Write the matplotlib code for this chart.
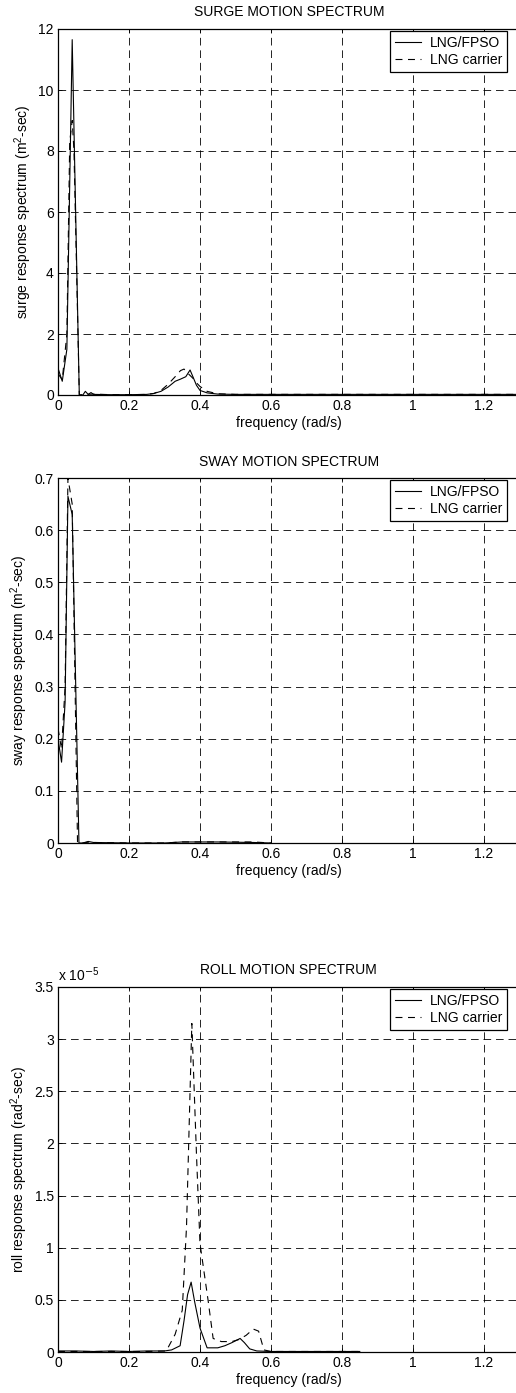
import matplotlib
matplotlib.use("Agg")
import matplotlib.pyplot as plt
from matplotlib.ticker import FormatStrFormatter, MultipleLocator, FixedLocator

plt.rcParams['font.family'] = ['Liberation Sans', 'DejaVu Sans']
plt.rcParams['font.size'] = 10
plt.rcParams['lines.scale_dashes'] = False
plt.rcParams['mathtext.default'] = 'regular'

# surge spectrum (m^2-sec)
surge_w_fpso = [0.0, 0.012, 0.025, 0.04, 0.06, 0.07, 0.077, 0.085, 0.093, 0.1, 0.15, 0.2, 0.25,
                0.27, 0.29, 0.31, 0.33, 0.345, 0.36, 0.372, 0.38, 0.39, 0.4, 0.42, 0.45, 0.5,
                0.6, 0.8, 1.0, 1.2, 1.3]
surge_s_fpso = [0.88, 0.45, 1.5, 11.65, 0.0, 0.0, 0.12, 0.02, 0.08, 0.02, 0.01, 0.01, 0.02,
                0.05, 0.12, 0.26, 0.45, 0.52, 0.6, 0.82, 0.6, 0.32, 0.15, 0.07, 0.03, 0.02,
                0.02, 0.02, 0.02, 0.02, 0.02]
surge_w_lng = [0.0, 0.012, 0.025, 0.033, 0.04, 0.045, 0.06, 0.08, 0.1, 0.15, 0.2, 0.25,
               0.27, 0.29, 0.31, 0.33, 0.345, 0.355, 0.365, 0.38, 0.39, 0.4, 0.42, 0.45, 0.5,
               0.6, 0.8, 1.0, 1.2, 1.3]
surge_s_lng = [0.7, 0.5, 2.0, 8.3, 9.0, 8.0, 0.0, 0.02, 0.03, 0.01, 0.01, 0.02,
               0.05, 0.15, 0.35, 0.6, 0.8, 0.85, 0.72, 0.55, 0.4, 0.28, 0.12, 0.04, 0.02,
               0.02, 0.02, 0.02, 0.02, 0.02]

# sway spectrum (m^2-sec)
sway_w_fpso = [0.0, 0.01, 0.02, 0.028, 0.04, 0.059, 0.07, 0.085, 0.1, 0.2, 0.3, 0.35, 0.45, 0.55, 0.6]
sway_s_fpso = [0.2, 0.155, 0.27, 0.665, 0.63, 0.0, 0.0, 0.003, 0.001, 0.0, 0.0, 0.002, 0.002, 0.001, 0.0]
sway_w_lng = [0.0, 0.01, 0.02, 0.028, 0.04, 0.055, 0.07, 0.09, 0.1, 0.2, 0.3, 0.35, 0.45, 0.55, 0.6]
sway_s_lng = [0.22, 0.18, 0.3, 0.7, 0.65, 0.0, 0.0, 0.002, 0.001, 0.0, 0.0, 0.002, 0.002, 0.002, 0.0]

# roll spectrum (x 1e-5 rad^2-sec)
roll_w_fpso = [0.0, 0.05, 0.1, 0.15, 0.2, 0.25, 0.3, 0.32, 0.344, 0.355, 0.365, 0.375, 0.385,
               0.4, 0.42, 0.45, 0.47, 0.49, 0.513, 0.525, 0.54, 0.56, 0.6, 0.7, 0.85]
roll_s_fpso = [0.01, 0.01, 0.005, 0.01, 0.005, 0.01, 0.01, 0.02, 0.06, 0.3, 0.55, 0.67, 0.48,
               0.23, 0.04, 0.04, 0.06, 0.09, 0.13, 0.09, 0.03, 0.01, 0.005, 0.005, 0.005]
roll_w_lng = [0.0, 0.05, 0.1, 0.15, 0.2, 0.25, 0.305, 0.33, 0.35, 0.362, 0.377, 0.39, 0.4,
              0.423, 0.437, 0.46, 0.49, 0.51, 0.53, 0.55, 0.565, 0.58, 0.6, 0.7, 0.85]
roll_s_lng = [0.005, 0.005, 0.005, 0.005, 0.005, 0.005, 0.01, 0.17, 0.4, 1.2, 3.15, 1.9, 1.04,
              0.49, 0.13, 0.1, 0.1, 0.12, 0.16, 0.22, 0.2, 0.02, 0.005, 0.005, 0.005]

freq_ticks = [0, 0.2, 0.4, 0.6, 0.8, 1.0, 1.2]

W, H = 516, 1393
fig = plt.figure(figsize=(W / 100, H / 100), dpi=100)

# axes boxes in pixels: top, bottom; x runs 0..1.3, right spine sits just past the edge
px_per_unit = 355
left = 58
xmax = 1.3
boxes = [(29, 395), (478, 843), (987, 1352)]


def make_axes(top, bottom):
    width = xmax * px_per_unit
    return fig.add_axes([left / W, 1 - bottom / H, width / W, (bottom - top) / H])


def style(ax, ymax, ystep, title, ylabel, top_px):
    ax.set_xlim(0, xmax)
    ax.set_ylim(0, ymax)
    ax.xaxis.set_major_locator(FixedLocator(freq_ticks))
    ax.yaxis.set_major_locator(MultipleLocator(ystep))
    ax.xaxis.set_major_formatter(FormatStrFormatter('%g'))
    ax.yaxis.set_major_formatter(FormatStrFormatter('%g'))
    ax.tick_params(direction='in', length=3, width=0.6, top=True, right=True, labelsize=10, pad=3)
    ax.grid(True, color='k', linewidth=0.6, dashes=(5.5, 3.5))
    for s in ax.spines.values():
        s.set_linewidth(0.9)
    ax.set_title(title, fontsize=10, pad=9)
    ax.set_xlabel('frequency (rad/s)', fontsize=10, labelpad=2)
    ax.set_ylabel(ylabel, fontsize=10, labelpad=3)
    leg = ax.legend(loc='upper right', bbox_to_anchor=(507 / W, 1 - (top_px + 2) / H),
                    bbox_transform=fig.transFigure, borderaxespad=0, fancybox=False,
                    edgecolor='k', framealpha=1, handlelength=1.9, handletextpad=0.6,
                    borderpad=0.35, labelspacing=0.2, fontsize=10)
    leg.get_frame().set_linewidth(0.9)


ax1 = make_axes(*boxes[0])
ax1.plot(surge_w_fpso, surge_s_fpso, 'k-', lw=0.8, label='LNG/FPSO')
ax1.plot(surge_w_lng, surge_s_lng, color='k', lw=0.8, dashes=(5, 4), label='LNG carrier')
style(ax1, 12, 2, 'SURGE MOTION SPECTRUM', 'surge response spectrum (m$^2$-sec)', boxes[0][0])

ax2 = make_axes(*boxes[1])
ax2.plot(sway_w_fpso, sway_s_fpso, 'k-', lw=0.8, label='LNG/FPSO')
ax2.plot(sway_w_lng, sway_s_lng, color='k', lw=0.8, dashes=(5, 4), label='LNG carrier')
style(ax2, 0.7, 0.1, 'SWAY MOTION SPECTRUM', 'sway response spectrum (m$^2$-sec)', boxes[1][0])

ax3 = make_axes(*boxes[2])
ax3.plot(roll_w_fpso, roll_s_fpso, 'k-', lw=0.8, label='LNG/FPSO')
ax3.plot(roll_w_lng, roll_s_lng, color='k', lw=0.8, dashes=(5, 4), label='LNG carrier')
style(ax3, 3.5, 0.5, 'ROLL MOTION SPECTRUM', 'roll response spectrum (rad$^2$-sec)', boxes[2][0])
ax3.text(0.0, 1.008, 'x 10$^{\\mathrm{-}5}$', transform=ax3.transAxes, fontsize=10,
         ha='left', va='bottom')

fig.savefig('out.png', dpi=100)
